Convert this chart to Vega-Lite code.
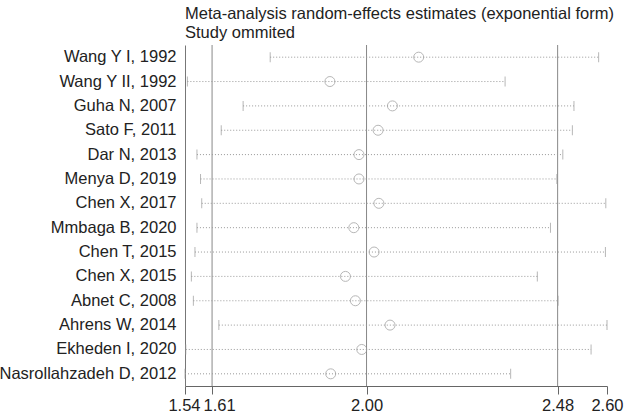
{
  "$schema": "https://vega.github.io/schema/vega-lite/v6.json",
  "width": 422,
  "height": 341,
  "autosize": {"type": "none"},
  "padding": {"left": 185, "top": 45, "right": 17, "bottom": 30},
  "background": "white",
  "title": {
    "text": ["Meta-analysis random-effects estimates (exponential form)", "Study ommited"],
    "anchor": "start",
    "frame": "group",
    "fontSize": 16.5,
    "fontWeight": "normal",
    "font": "Liberation Sans",
    "color": "#222",
    "lineHeight": 19,
    "offset": 3
  },
  "config": {"view": {"stroke": null}, "font": "Liberation Sans"},
  "datasets": {
    "studies": [
      {"study": "Wang Y I, 1992", "est": 2.127, "lo": 1.754, "hi": 2.579},
      {"study": "Wang Y II, 1992", "est": 1.904, "lo": 1.546, "hi": 2.344},
      {"study": "Guha N, 2007", "est": 2.061, "lo": 1.686, "hi": 2.517},
      {"study": "Sato F, 2011", "est": 2.025, "lo": 1.631, "hi": 2.513},
      {"study": "Dar N, 2013", "est": 1.977, "lo": 1.570, "hi": 2.489},
      {"study": "Menya D, 2019", "est": 1.977, "lo": 1.579, "hi": 2.474},
      {"study": "Chen X, 2017", "est": 2.027, "lo": 1.582, "hi": 2.597},
      {"study": "Mmbaga B, 2020", "est": 1.964, "lo": 1.570, "hi": 2.458},
      {"study": "Chen T, 2015", "est": 2.015, "lo": 1.565, "hi": 2.596},
      {"study": "Chen X, 2015", "est": 1.943, "lo": 1.556, "hi": 2.425},
      {"study": "Abnet C, 2008", "est": 1.968, "lo": 1.561, "hi": 2.477},
      {"study": "Ahrens W, 2014", "est": 2.055, "lo": 1.625, "hi": 2.600},
      {"study": "Ekheden I, 2020", "est": 1.984, "lo": 1.542, "hi": 2.560},
      {"study": "Nasrollahzadeh D, 2012", "est": 1.906, "lo": 1.540, "hi": 2.358}
    ],
    "ref": [{"v": 1.608}, {"v": 1.996}, {"v": 2.476}]
  },
  "layer": [
    {
      "data": {"name": "ref"},
      "mark": {"type": "rule", "color": "#888", "strokeWidth": 1},
      "encoding": {
        "x": {
          "field": "v",
          "type": "quantitative",
          "scale": {"domain": [1.54, 2.6], "nice": false, "zero": false},
          "axis": {
            "title": null,
            "values": [1.54, 1.608, 1.996, 2.476, 2.6],
            "format": ".2f",
            "labelOverlap": false,
            "labelFontSize": 16.5,
            "labelColor": "#222",
            "labelFont": "Liberation Sans",
            "labelPadding": 3,
            "labelOffset": {"condition": [{"test": "datum.value > 1.6 && datum.value < 1.7", "value": 7}, {"test": "datum.value < 1.55", "value": -1}], "value": 0},
            "tickSize": 8,
            "tickColor": "#666",
            "domainColor": "#666",
            "grid": false,
            "labelFlush": false
          }
        }
      }
    },
    {
      "data": {"name": "studies"},
      "mark": {"type": "rule", "color": "#999", "strokeDash": [1, 2], "strokeWidth": 1},
      "encoding": {
        "y": {
          "field": "study",
          "type": "nominal",
          "sort": null,
          "axis": {
            "title": null,
            "ticks": false,
            "domain": true,
            "domainColor": "#777",
            "labelFontSize": 16.5,
            "labelColor": "#222",
            "labelFont": "Liberation Sans",
            "labelPadding": 9,
            "labelLimit": 250,
            "grid": false
          }
        },
        "x": {"field": "lo", "type": "quantitative"},
        "x2": {"field": "hi"}
      }
    },
    {
      "data": {"name": "studies"},
      "mark": {"type": "tick", "color": "#999", "size": 10, "thickness": 1},
      "encoding": {
        "y": {"field": "study", "type": "nominal", "sort": null},
        "x": {"field": "lo", "type": "quantitative"}
      }
    },
    {
      "data": {"name": "studies"},
      "mark": {"type": "tick", "color": "#999", "size": 10, "thickness": 1},
      "encoding": {
        "y": {"field": "study", "type": "nominal", "sort": null},
        "x": {"field": "hi", "type": "quantitative"}
      }
    },
    {
      "data": {"name": "studies"},
      "mark": {"type": "point", "shape": "circle", "filled": false, "color": "#999", "size": 100, "strokeWidth": 1},
      "encoding": {
        "y": {"field": "study", "type": "nominal", "sort": null},
        "x": {"field": "est", "type": "quantitative"}
      }
    }
  ]
}
